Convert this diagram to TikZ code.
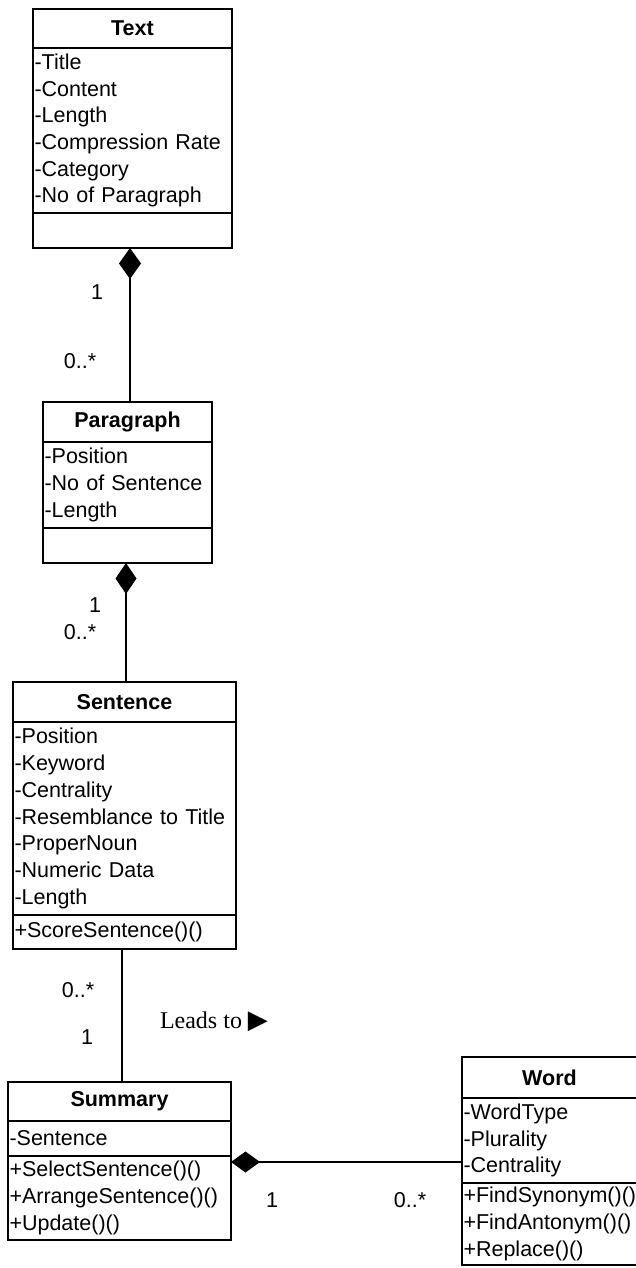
\documentclass[tikz,border=0pt]{standalone}
\usepackage{fontspec}
\setmainfont{Liberation Sans}
\newfontfamily\serifF{Liberation Serif}
\newfontfamily\symF{DejaVu Sans}
\usetikzlibrary{arrows.meta}
\begin{document}
\begin{tikzpicture}[x=1pt,y=-1pt,
  box/.style={draw, line width=1.5pt, anchor=north west, inner sep=0pt, outer sep=0pt},
  hdr/.style={box, font=\fontsize{21.5}{26.7}\selectfont\bfseries, align=center},
  cmp/.style={box, font=\fontsize{21.5}{26.7}\selectfont, align=left, inner xsep=1.5pt, text width=#1},
  link/.style={line width=1.5pt},
  mult/.style={font=\fontsize{21.5}{21.5}\selectfont, inner sep=0pt},
]
\useasboundingbox (0,0) rectangle (636,1268);

% Text
\node[hdr, minimum width=199pt, minimum height=39pt] (textH) at (33,9) {Text};
\node[cmp=196pt, minimum width=199pt, minimum height=165pt] (textA) at (33,48)
  {-Title\\-Content\\-Length\\-Compression Rate\\-Category\\-No of Paragraph};
\node[box, minimum width=199pt, minimum height=35pt] (textO) at (33,213) {};

% Paragraph
\node[hdr, minimum width=169pt, minimum height=40pt] (paraH) at (43,402) {Paragraph};
\node[cmp=166pt, minimum width=169pt, minimum height=86pt] (paraA) at (43,442)
  {-Position\\-No of Sentence\\-Length};
\node[box, minimum width=169pt, minimum height=35pt] (paraO) at (43,528) {};

% Sentence
\node[hdr, minimum width=223pt, minimum height=40pt] (sentH) at (13,682) {Sentence};
\node[cmp=220pt, minimum width=223pt, minimum height=193pt] (sentA) at (13,722)
  {-Position\\-Keyword\\-Centrality\\-Resemblance to Title\\-ProperNoun\\-Numeric Data\\-Length};
\node[cmp=220pt, minimum width=223pt, minimum height=34pt] (sentO) at (13,915)
  {+ScoreSentence()()};

% Summary
\node[hdr, minimum width=223pt, minimum height=39pt] (sumH) at (8,1082) {Summary};
\node[cmp=220pt, minimum width=223pt, minimum height=35pt] (sumA) at (8,1121)
  {-Sentence};
\node[cmp=220pt, minimum width=223pt, minimum height=84pt] (sumO) at (8,1156)
  {+SelectSentence()()\\+ArrangeSentence()()\\+Update()()};

% Word (right edge lies just beyond the picture, as in the reference)
\node[hdr, minimum width=177pt, minimum height=41pt, text width=174pt] (wordH) at (462,1057) {\hspace*{-2pt}Word};
\node[cmp=174pt, minimum width=177pt, minimum height=85pt] (wordA) at (462,1098)
  {-WordType\\-Plurality\\-Centrality};
\node[cmp=174pt, minimum width=177pt, minimum height=82pt] (wordO) at (462,1183)
  {+FindSynonym()()\\+FindAntonym()()\\+Replace()()};

% connectors
\coordinate (x1) at (130,0);
\coordinate (x2) at (126,0);
\coordinate (x3) at (122,0);
\coordinate (y4) at (0,1162);
\draw[link, {Diamond[length=31pt,width=22pt]}-] (x1 |- textO.south) -- (x1 |- paraH.north);
\draw[link, {Diamond[length=31pt,width=21pt]}-] (x2 |- paraO.south) -- (x2 |- sentH.north);
\draw[link] (x3 |- sentO.south) -- (x3 |- sumH.north);
\draw[link, {Diamond[length=29pt,width=21pt]}-] (sumO.east |- y4) -- (wordA.west |- y4);

% multiplicities
\node[mult] (m1) at (97,292) {1};
\node[mult] (m2) at (80,361) {0..*};
\node[mult] (m3) at (95,605) {1};
\node[mult] (m4) at (80,632) {0..*};
\node[mult] (m5) at (78,990) {0..*};
\node[mult] (m6) at (87,1037) {1};
\node[mult] (m7) at (272,1200) {1};
\node[mult] (m8) at (410,1200) {0..*};
\node[font=\serifF\fontsize{24}{24}\selectfont, inner sep=0pt] (lead) at (214,1022) {Leads to {\symF\fontsize{26}{26}\selectfont ▶}};
\end{tikzpicture}
\end{document}
